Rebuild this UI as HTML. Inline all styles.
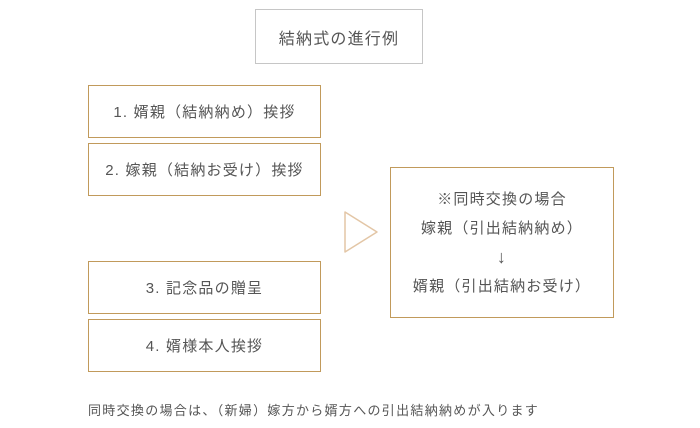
<!DOCTYPE html>
<html><head><meta charset="utf-8"><style>
body{margin:0;width:700px;height:428px;background:#fff;position:relative;font-family:"Liberation Sans","Noto Sans CJK JP",sans-serif;color:#555;overflow:hidden}
.b{position:absolute;box-sizing:border-box;border:1px solid #c19a5b;display:flex;align-items:center;justify-content:center;font-size:15px;letter-spacing:1.2px}
</style></head><body>
<div class="b" style="left:255px;top:9px;width:168px;height:55px;border-color:#c6c6c6;font-size:16px;letter-spacing:1.2px">結納式の進行例</div>
<div class="b" style="left:88px;top:85px;width:233px;height:53px">1. 婿親（結納納め）挨拶</div>
<div class="b" style="left:88px;top:143px;width:233px;height:53px">2. 嫁親（結納お受け）挨拶</div>
<div class="b" style="left:88px;top:261px;width:233px;height:53px">3. 記念品の贈呈</div>
<div class="b" style="left:88px;top:319px;width:233px;height:53px">4. 婿様本人挨拶</div>
<div class="b" style="left:390px;top:167px;width:224px;height:151px;flex-direction:column;line-height:29px">
<div>※同時交換の場合</div><div>嫁親（引出結納納め）</div><div style="font-size:18px">↓</div><div>婿親（引出結納お受け）</div></div>
<svg style="position:absolute;left:0;top:0" width="700" height="428"><path d="M345,212 L377,232 L345,252 Z" fill="none" stroke="#e3c6a6" stroke-width="1.5" stroke-linejoin="round"/></svg>
<div style="position:absolute;left:88px;top:400px;font-size:13px;letter-spacing:1.3px">同時交換の場合は、（新婦）嫁方から婿方への引出結納納めが入ります</div>
</body></html>
